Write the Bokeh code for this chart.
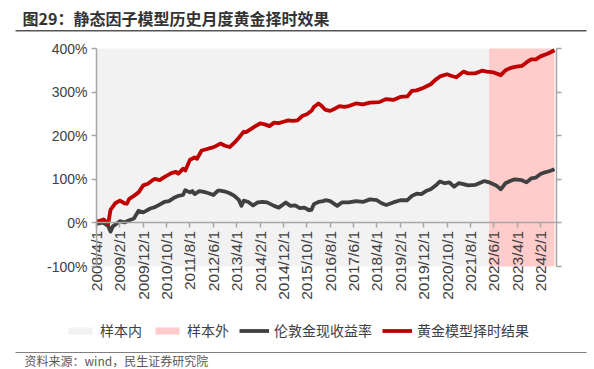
from bokeh.plotting import figure
from bokeh.models import (Range1d, LinearAxis, Label, Legend, LegendItem, FixedTicker,
                          BoxAnnotation, CustomJSTickFormatter)
from bokeh.embed import file_html
from bokeh.resources import INLINE

# ---------------- data (month index 0 = 2008/4/1) ----------------
model_months = [0, 2, 3, 5, 6, 8, 10, 12, 13, 14, 16, 18, 20, 22, 24, 25, 27, 29, 32, 34, 35, 37, 38,
                40, 42, 43, 45, 47, 49, 51, 53, 55, 57, 59, 61, 63, 64, 66, 68, 70, 72, 74, 76, 78,
                80, 82, 84, 86, 88, 90, 92, 93, 95, 96, 98, 100, 102, 104, 106, 108, 111, 114, 117,
                121, 124, 127, 130, 133, 135, 137, 140, 143, 145, 147, 150, 152, 154, 157, 159, 162,
                165, 167, 170, 173, 175, 177, 179, 182, 184, 186, 188, 190, 193, 196]
model_values = [3, 6, 8, -2, 30, 45, 51, 45, 44, 55, 62, 70, 86, 90, 98, 101, 98, 105, 114, 117, 113,
                124, 120, 145, 150, 147, 166, 169, 172, 176, 182, 177, 174, 184, 196, 209, 208, 215,
                222, 228, 226, 222, 230, 229, 232, 235, 234, 235, 245, 249, 257, 266, 274, 270, 259,
                257, 262, 268, 266, 268, 274, 272, 276, 277, 284, 282, 289, 290, 303, 304, 310, 318,
                328, 336, 341, 337, 334, 347, 343, 343, 349, 347, 345, 339, 350, 355, 358, 360, 368,
                375, 375, 382, 388, 396]

gold_months = [0, 2, 3, 5, 6, 7, 9, 10, 12, 14, 16, 18, 20, 21, 23, 25, 27, 29, 31, 33, 35, 37, 38,
               40, 41, 42, 44, 46, 48, 50, 52, 53, 55, 57, 59, 61, 62, 63, 65, 67, 69, 71, 73, 76,
               78, 81, 83, 85, 87, 89, 91, 92, 93, 95, 97, 98, 100, 103, 105, 108, 111, 114, 117,
               120, 122, 124, 127, 130, 133, 135, 137, 139, 141, 143, 145, 147, 149, 151, 153, 155,
               157, 159, 162, 166, 168, 171, 173, 175, 177, 179, 182, 184, 186, 188, 190, 192, 194,
               196]
gold_values = [-2, 0, 0, -7, -20, -8, 0, 4, 1, 6, 10, 28, 24, 27, 33, 36, 42, 48, 50, 57, 62, 64, 75,
               70, 73, 66, 73, 71, 68, 64, 74, 74, 72, 68, 62, 52, 39, 51, 48, 40, 47, 48, 47, 39,
               35, 47, 39, 40, 34, 35, 29, 30, 43, 48, 50, 52, 50, 39, 47, 47, 50, 48, 54, 52, 45,
               41, 47, 52, 52, 62, 67, 66, 73, 77, 85, 95, 91, 93, 83, 91, 89, 86, 87, 96, 93, 86,
               77, 91, 96, 100, 98, 93, 102, 104, 112, 116, 119, 123]

sample_names = ["样本内", "样本外"]
sample_start = [0, 168]
sample_end = [168, 196]
sample_colors = ["#F2F2F2", "#FFCCCC"]
series_names = ["伦敦金现收益率", "黄金模型择时结果"]

y_ticks = [-100, 0, 100, 200, 300, 400]
x_ticks = list(range(0, 191, 10))
x_tick_labels = ["2008/4/1", "2009/2/1", "2009/12/1", "2010/10/1", "2011/8/1", "2012/6/1",
                 "2013/4/1", "2014/2/1", "2014/12/1", "2015/10/1", "2016/8/1", "2017/6/1",
                 "2018/4/1", "2019/2/1", "2019/12/1", "2020/10/1", "2021/8/1", "2022/6/1",
                 "2023/4/1", "2024/2/1"]
x_end = 197

TITLE = "图29：静态因子模型历史月度黄金择时效果"
SOURCE = "资料来源：wind，民生证券研究院"

CJK = "Noto Sans CJK SC"
LAT = "Liberation Sans"
TXT = "#404040"
AX = "#A6A6A6"

# ---------------- layout: the frame covers the whole canvas ----------------
W, H = 594, 369
PX0, PXM = 96.0, (540.0 - 96.0) / 190.0      # canvas x of month 0, px per month
PYT, PYB = 48.0, 266.0                        # canvas y of 400% and -100%
PYS = (PYB - PYT) / 500.0                     # px per percent
PY0 = PYT + 400 * PYS                         # canvas y of 0%


def dx(px):
    return (px - PX0) / PXM


def dy(py):
    return (PY0 - py) / PYS


p = figure(width=W, height=H, output_backend="svg", toolbar_location=None,
           x_range=Range1d(dx(0), dx(W)), y_range=Range1d(dy(H), dy(0)),
           x_axis_location=None, y_axis_location=None,
           min_border_left=0, min_border_right=0, min_border_top=0, min_border_bottom=0)
p.outline_line_color = None
p.grid.visible = False
p.background_fill_color = "white"
p.border_fill_color = "white"

# shaded sample regions
q_in = p.quad(left=[sample_start[0]], right=[sample_end[0]], bottom=[y_ticks[0]], top=[y_ticks[-1]],
              fill_color=sample_colors[0], line_color=None)
q_out = p.quad(left=[sample_start[1]], right=[sample_end[1]], bottom=[y_ticks[0]], top=[y_ticks[-1]],
               fill_color=sample_colors[1], line_color=None)

l_gold = p.line(gold_months, gold_values, line_width=3.8, line_color="#404040", line_join="round")
l_model = p.line(model_months, model_values, line_width=3.8, line_color="#C00000", line_join="round")

common = dict(major_tick_out=5, major_tick_in=0, minor_tick_out=0, minor_tick_in=0,
              axis_line_color=AX, major_tick_line_color=AX, axis_line_width=1.5,
              major_tick_line_width=1.5)

# left axis
ya = LinearAxis(fixed_location=0, bounds=(y_ticks[0], y_ticks[-1]),
                ticker=FixedTicker(ticks=y_ticks),
                major_label_overrides={v: f"{v}%" for v in y_ticks},
                major_label_text_font=LAT, major_label_text_font_size="14px",
                major_label_text_color=TXT, major_label_standoff=4, **common)
p.add_layout(ya, "left")

# right axis (ticks only)
ra = LinearAxis(fixed_location=x_end, bounds=(y_ticks[0], y_ticks[-1]),
                ticker=FixedTicker(ticks=y_ticks),
                formatter=CustomJSTickFormatter(code="return ''"),
                major_label_text_font_size="1px", **common)
p.add_layout(ra, "right")

# x axis at zero
xa = LinearAxis(fixed_location=0, bounds=(0, x_end), ticker=FixedTicker(ticks=x_ticks),
                major_label_overrides=dict(zip(x_ticks, x_tick_labels)),
                major_label_orientation=3.14159265 / 2,
                major_label_text_font=LAT, major_label_text_font_size="15.5px",
                major_label_text_color=TXT, major_label_standoff=3, **common)
p.add_layout(xa, "below")

# legend below the chart area
legend = Legend(items=[LegendItem(label=sample_names[0], renderers=[q_in]),
                       LegendItem(label=sample_names[1], renderers=[q_out]),
                       LegendItem(label=series_names[0], renderers=[l_gold]),
                       LegendItem(label=series_names[1], renderers=[l_model])],
                orientation="horizontal", location=(65, H - 340),
                glyph_width=30, glyph_height=9, label_standoff=5, spacing=10,
                padding=0, margin=0, border_line_color=None, background_fill_alpha=0,
                label_text_font=CJK, label_text_font_size="14px", label_text_color=TXT,
                label_height=16)
p.add_layout(legend, "center")

# title, rules and source
p.add_layout(Label(x=dx(22), y=dy(17), text=TITLE,
                   text_font=CJK, text_font_size="16px", text_font_style="bold",
                   text_color="#333333", text_baseline="middle"))
p.add_layout(BoxAnnotation(left=dx(15), right=dx(586), top=dy(29.5), bottom=dy(31),
                           fill_color="#555555", fill_alpha=1, line_color=None))
p.add_layout(BoxAnnotation(left=dx(15), right=dx(586), top=dy(351.5), bottom=dy(352.5),
                           fill_color="#808080", fill_alpha=1, line_color=None))
p.add_layout(Label(x=dx(24), y=dy(359.5), text=SOURCE,
                   text_font=CJK, text_font_size="12px", text_color="#595959",
                   text_baseline="middle"))

open("out.html", "w").write(file_html(p, INLINE))
